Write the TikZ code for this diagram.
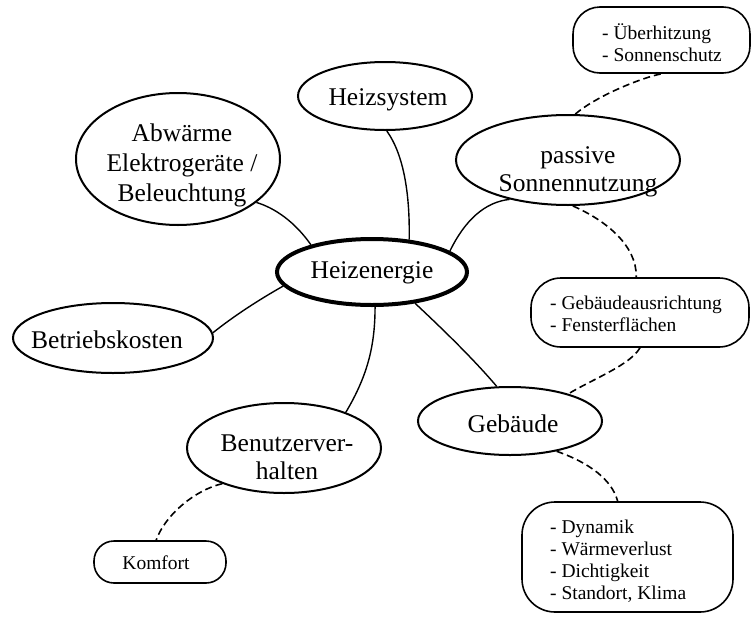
\documentclass[tikz,border=0pt]{standalone}
\usepackage{fontspec}
\setmainfont{Liberation Serif}
\usetikzlibrary{shapes.geometric}
\begin{document}
\begin{tikzpicture}[x=1pt,y=-1pt,
 bub/.style={draw, ellipse, line width=2pt, inner sep=0pt},
 big/.style={font=\fontsize{25.5}{30}\selectfont, align=center, inner sep=0pt},
 small/.style={font=\fontsize{19.5}{22}\selectfont, align=left, inner sep=0pt, anchor=west},
 note/.style={draw, rectangle, line width=1.6pt, inner sep=0pt},
 link/.style={line width=1.4pt},
 dlink/.style={line width=1.6pt, dash pattern=on 7pt off 4pt}]
\useasboundingbox (0,0) rectangle (752,616);

% ellipses
\node[bub, line width=4pt, minimum width=190pt, minimum height=66pt] (he) at (372,272) {};
\node[bub, minimum width=174pt, minimum height=68pt] (hs) at (385,96) {};
\node[bub, minimum width=204pt, minimum height=132pt] (abw) at (178,159) {};
\node[bub, minimum width=224pt, minimum height=90pt] (pas) at (568,160) {};
\node[bub, minimum width=200pt, minimum height=70pt] (bk) at (113,338) {};
\node[bub, minimum width=184pt, minimum height=68pt] (geb) at (510,421) {};
\node[bub, minimum width=194pt, minimum height=90pt] (bv) at (284,448) {};

% note boxes
\node[note, rounded corners=27pt, minimum width=177pt, minimum height=66pt] (ueb) at (661.5,40) {};
\node[note, rounded corners=30pt, minimum width=218pt, minimum height=69pt] (ga) at (640,312.5) {};
\node[note, rounded corners=33pt, minimum width=211pt, minimum height=110pt] (dyn) at (627.5,557) {};
\node[note, rounded corners=20pt, minimum width=132pt, minimum height=42pt] (kom) at (160,562) {};

% texts
\node[big] (he-t) at (372,273) {Heizenergie};
\node[big] (hs-t) at (388,100) {Heizsystem};
\node[big] (abw-t) at (182,165) {Abwärme\\Elektrogeräte /\\Beleuchtung};
\node[big, font=\fontsize{25.5}{28}\selectfont] (pas-t) at (578,172) {passive\\Sonnennutzung};
\node[big] (bk-t) at (107,340) {Betriebskosten};
\node[big] (geb-t) at (513,424) {Gebäude};
\node[big, font=\fontsize{25.5}{28}\selectfont] (bv-t) at (287,457) {Benutzerver-\\halten};
\node[small] (ueb-t) at (602,43) {- Überhitzung\\- Sonnenschutz};
\node[small] (ga-t) at (550,314) {- Gebäudeausrichtung\\- Fensterflächen};
\node[small] (dyn-t) at (550,561) {- Dynamik\\- Wärmeverlust\\- Dichtigkeit\\- Standort, Klima};
\node[small, anchor=center] (kom-t) at (156,563) {Komfort};

% solid connectors
\draw[link] (hs.-87) .. controls (404,155) and (410,195) .. (he.41);
\draw[link] (abw.-29) .. controls (275,208) and (295,222) .. (he.156);
\draw[link] (pas.-146) .. controls (485,202) and (465,220) .. (he.15);
\draw[link] (bk.3) .. controls (235,315) and (262,298) .. (he.189);
\draw[link] (he.-85) .. controls (375,345) and (368,375) .. (bv.30);
\draw[link] (he.-36) .. controls (435,322) and (470,355) .. (geb.111);

% dashed connectors
\draw[dlink] (pas.81) .. controls (595,97) and (640,78) .. (ueb.south);
\draw[dlink] (pas.-84) .. controls (605,220) and (637,245) .. (ga.96);
\draw[dlink] (ga.south) .. controls (630,365) and (595,378) .. (geb.25);
\draw[dlink] (geb.-33) .. controls (590,463) and (612,480) .. (dyn.100);
\draw[dlink] (bv.-150) .. controls (195,490) and (165,515) .. (kom.100);
\end{tikzpicture}
\end{document}
